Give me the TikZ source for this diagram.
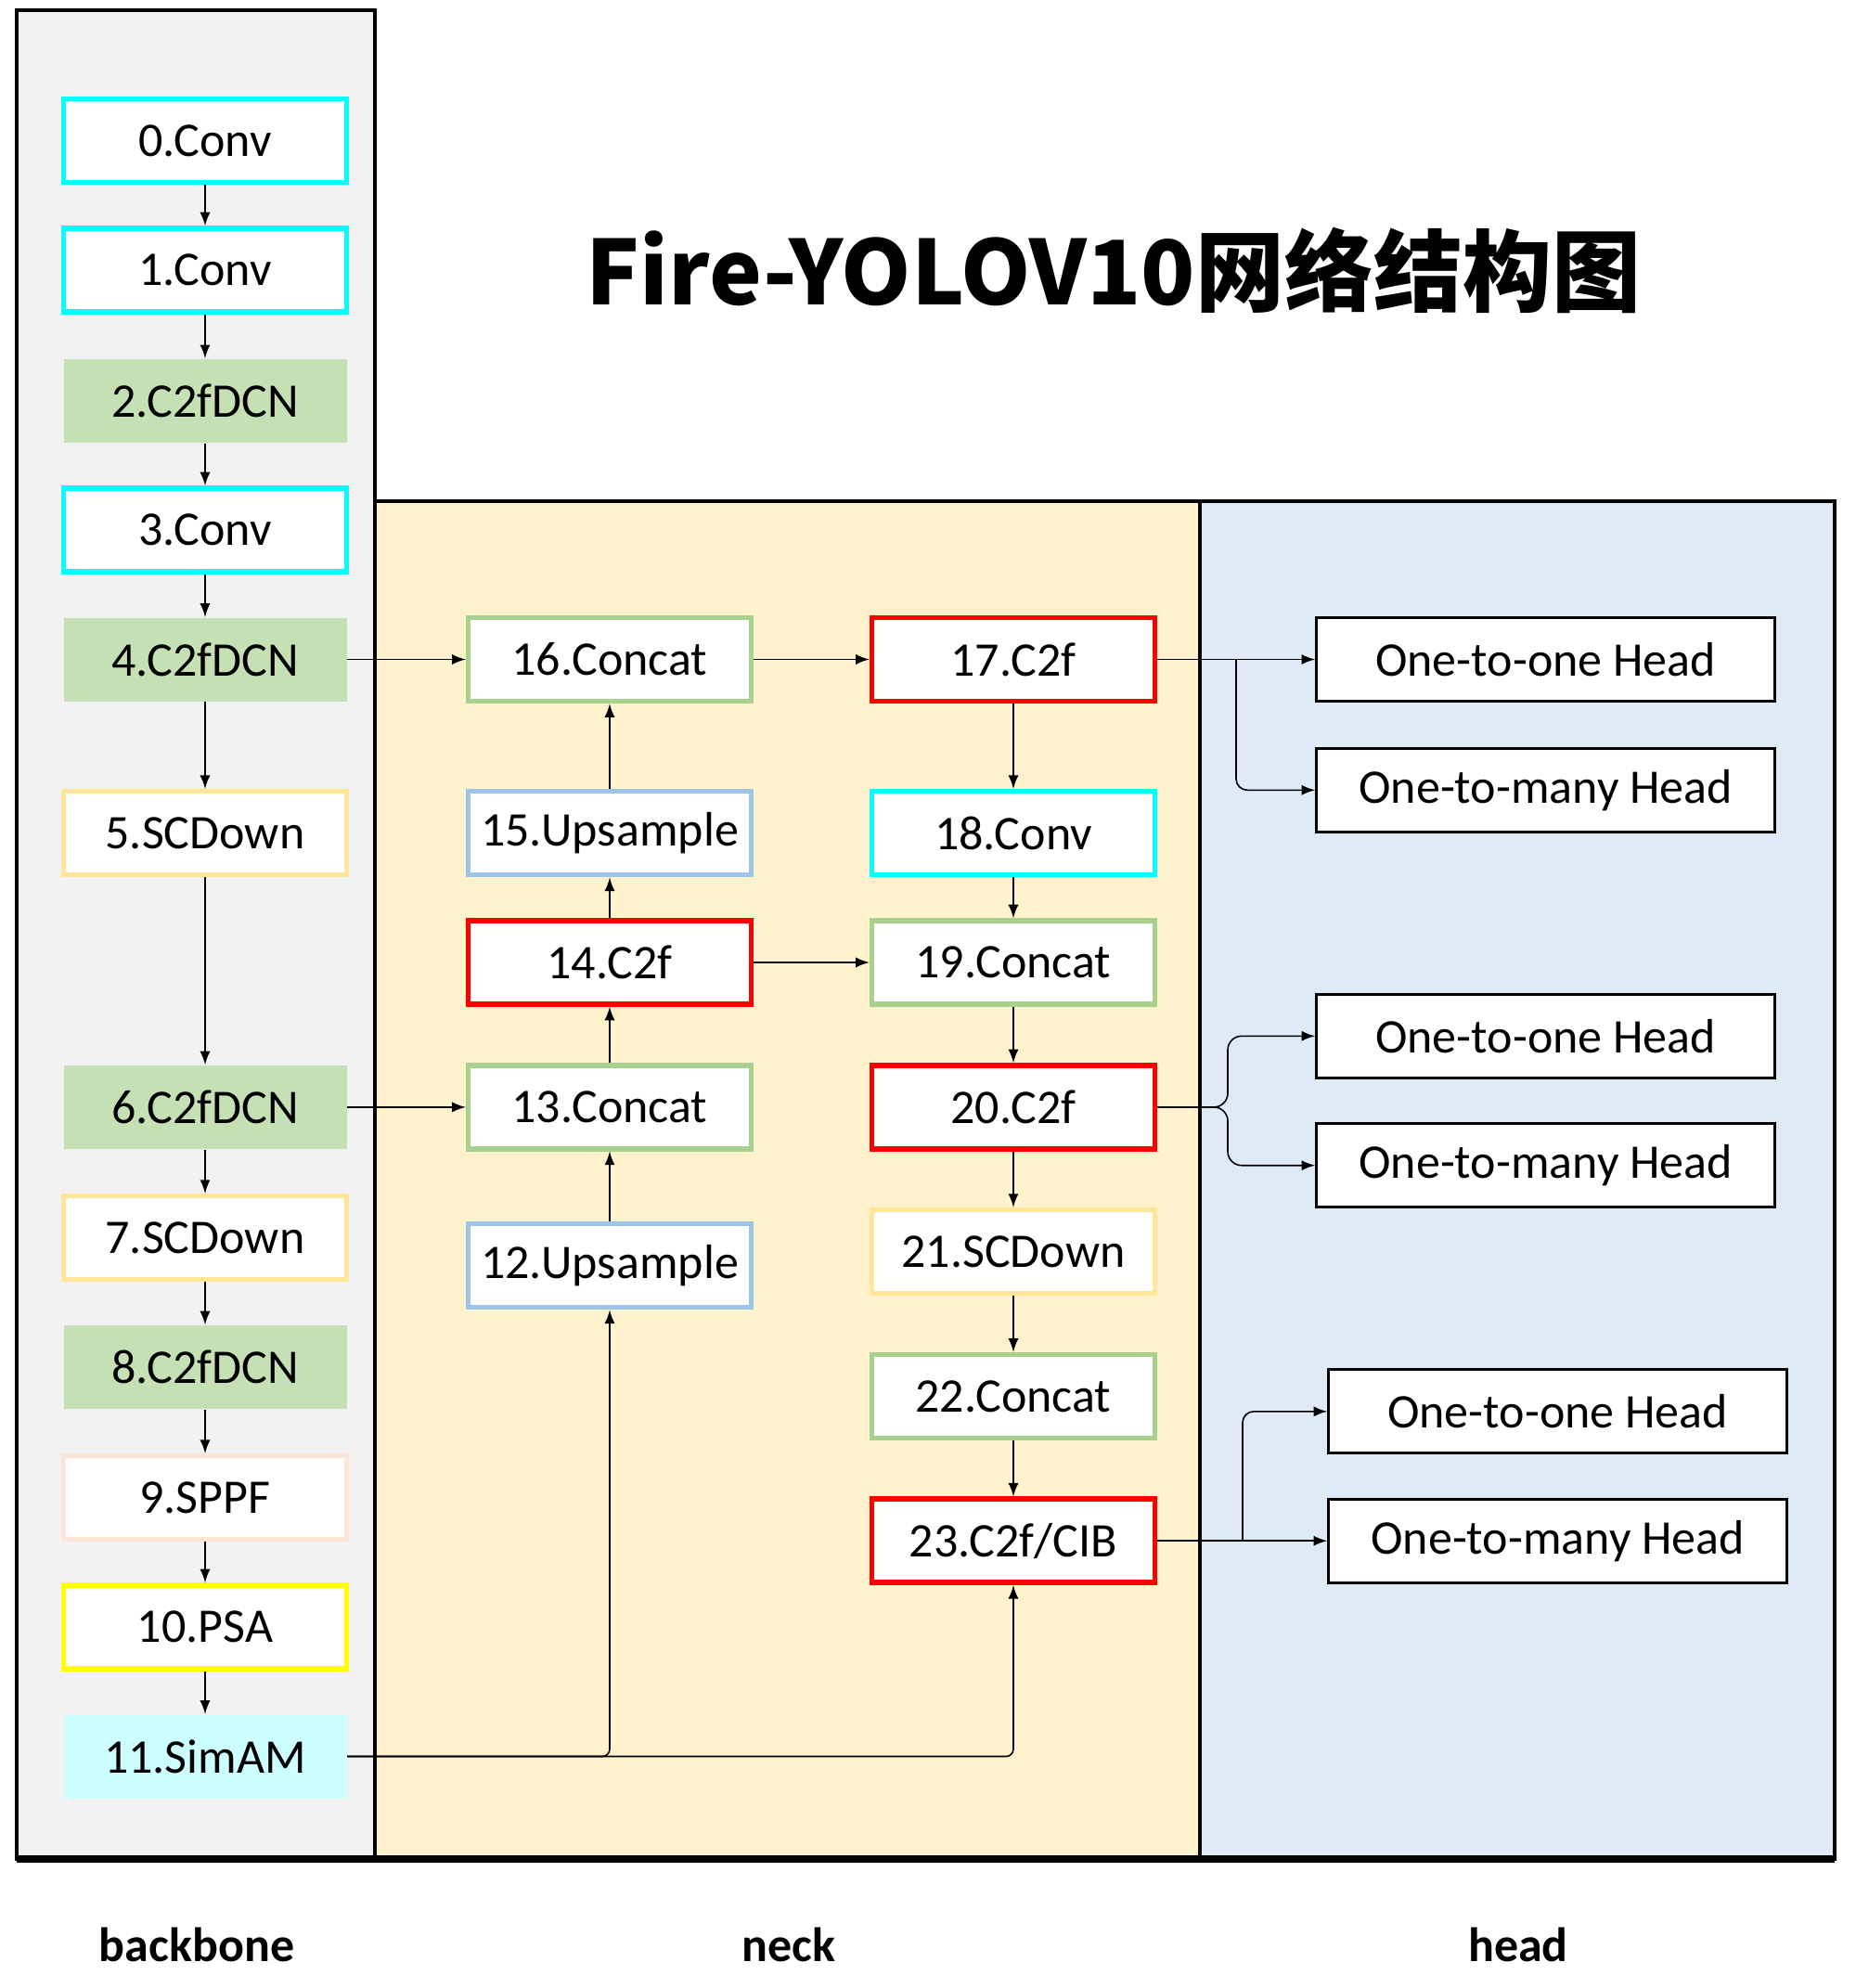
\documentclass[tikz,border=0pt]{standalone}
\usepackage{fontspec}
\setmainfont{Carlito}
\newfontfamily\cjk{Noto Sans CJK SC}
\usetikzlibrary{calc,positioning,arrows}
\definecolor{bbgray}{HTML}{F2F2F2}
\definecolor{neckyel}{HTML}{FFF2CC}
\definecolor{headblue}{HTML}{DEEBF7}
\definecolor{cvcyan}{HTML}{00FFFF}
\definecolor{dcngreen}{HTML}{C5E0B4}
\definecolor{scdyel}{HTML}{FFE699}
\definecolor{sppfpeach}{HTML}{FBE5D6}
\definecolor{psayel}{HTML}{FFFF00}
\definecolor{simcyan}{HTML}{CCFFFF}
\definecolor{catgreen}{HTML}{A9D18E}
\definecolor{upblue}{HTML}{9DC3E6}
\definecolor{cfred}{HTML}{FF0000}

\begin{document}
\begin{tikzpicture}[lbl/.style={inner sep=0pt, font=\fontsize{14.8}{17}\selectfont\bfseries}]
\tikzstyle{blk}=[rectangle, inner sep=0pt, minimum width=3.05cm, minimum height=0.9cm, font=\fontsize{14.8}{17}\selectfont]
\tikzstyle{frame}=[blk, fill=white, line width=0.055cm]
\tikzstyle{conv}=[frame, draw=cvcyan]
\tikzstyle{dcn}=[blk, fill=dcngreen]
\tikzstyle{scdown}=[frame, draw=scdyel]
\tikzstyle{sppf}=[frame, draw=sppfpeach]
\tikzstyle{psa}=[frame, draw=psayel]
\tikzstyle{simam}=[blk, fill=simcyan]
\tikzstyle{concat}=[frame, draw=catgreen]
\tikzstyle{upsample}=[frame, draw=upblue]
\tikzstyle{ctwof}=[frame, draw=cfred]
\tikzstyle{headbox}=[blk, fill=white, draw=black, line width=0.03cm, minimum width=4.94cm]
\tikzstyle{link}=[->, >=latex, line width=0.45pt]
\useasboundingbox (0,0) rectangle (19.99,-21.42);
% panels
\draw[fill=bbgray, line width=0.045cm] (0.18,-0.11) rectangle (4.04,-20.03);
\draw[fill=neckyel, line width=0.045cm] (4.04,-5.40) rectangle (12.93,-20.03);
\draw[fill=headblue, line width=0.045cm] (12.93,-5.40) rectangle (19.77,-20.03);
\draw[line width=0.08cm] (0.18,-20.03) -- (19.77,-20.03);
\node[inner sep=0pt, font=\cjk\fontsize{27.3}{31}\selectfont\bfseries] (title) at (12.0,-2.91) {Fire-YOLOV10网络结构图};
% backbone
\node[conv] (b0) at (2.21,-1.517) {0.Conv};
\node[conv] (b1) at (2.21,-2.91) {1.Conv};
\node[dcn] (b2) at (2.21,-4.318) {2.C2fDCN};
\node[conv] (b3) at (2.21,-5.71) {3.Conv};
\node[dcn] (b4) at (2.21,-7.105) {4.C2fDCN};
\node[scdown] (b5) at (2.21,-8.977) {5.SCDown};
\node[dcn] (b6) at (2.21,-11.929) {6.C2fDCN};
\node[scdown] (b7) at (2.21,-13.336) {7.SCDown};
\node[dcn] (b8) at (2.21,-14.73) {8.C2fDCN};
\node[sppf] (b9) at (2.21,-16.137) {9.SPPF};
\node[psa] (b10) at (2.21,-17.53) {10.PSA};
\node[simam] (b11) at (2.21,-18.925) {11.SimAM};
% neck
\node[upsample] (n12) at (6.57,-13.637) {12.Upsample};
\node[concat] (n13) at (6.57,-11.929) {13.Concat};
\node[ctwof] (n14) at (6.57,-10.37) {14.C2f};
\node[upsample] (n15) at (6.57,-8.977) {15.Upsample};
\node[concat] (n16) at (6.57,-7.105) {16.Concat};
\node[ctwof] (n17) at (10.92,-7.105) {17.C2f};
\node[conv] (n18) at (10.92,-8.977) {18.Conv};
\node[concat] (n19) at (10.92,-10.37) {19.Concat};
\node[ctwof] (n20) at (10.92,-11.929) {20.C2f};
\node[scdown] (n21) at (10.92,-13.486) {21.SCDown};
\node[concat] (n22) at (10.92,-15.044) {22.Concat};
\node[ctwof] (n23) at (10.92,-16.602) {23.C2f/CIB};
% head
\node[headbox] (h1) at (16.656,-7.105) {One-to-one Head};
\node[headbox] (h2) at (16.656,-8.513) {One-to-many Head};
\node[headbox] (h3) at (16.656,-11.163) {One-to-one Head};
\node[headbox] (h4) at (16.656,-12.557) {One-to-many Head};
\node[headbox] (h5) at (16.786,-15.208) {One-to-one Head};
\node[headbox] (h6) at (16.786,-16.602) {One-to-many Head};
\coordinate (s17) at (13.32,-7.105);
\coordinate (s20) at (13.23,-11.929);
\coordinate (s23) at (13.39,-16.602);
% captions
\node[lbl] (cap1) at (2.12,-20.95) {backbone};
\node[lbl] (cap2) at (8.50,-20.95) {neck};
\node[lbl] (cap3) at (16.36,-20.95) {head};
% links
\foreach \i/\j in {b0/b1,b1/b2,b2/b3,b3/b4,b4/b5,b5/b6,b6/b7,b7/b8,b8/b9,b9/b10,b10/b11,n17/n18,n18/n19,n19/n20,n20/n21,n21/n22,n22/n23,n12/n13,n13/n14,n14/n15,n15/n16}{\draw[link] (\i) -- (\j);}
\foreach \i/\j in {b4/n16,n16/n17,n14/n19,b6/n13,n17/h1,n23/h6}{\draw[link] (\i.east) -- (\j.west);}
\draw[link, rounded corners=0.08cm] (b11.east) -| (n12.south);
\draw[link, rounded corners=0.08cm] (b11.east) -| (n23.south);
\draw[link, rounded corners=0.12cm] (s17) |- (h2.west);
\draw[link, rounded corners=0.12cm] (s23) |- (h5.west);
\draw[link, rounded corners=0.15cm] (n20.east) -- (s20) |- (h3.west);
\draw[link, rounded corners=0.15cm] (n20.east) -- (s20) |- (h4.west);
\end{tikzpicture}
\end{document}
